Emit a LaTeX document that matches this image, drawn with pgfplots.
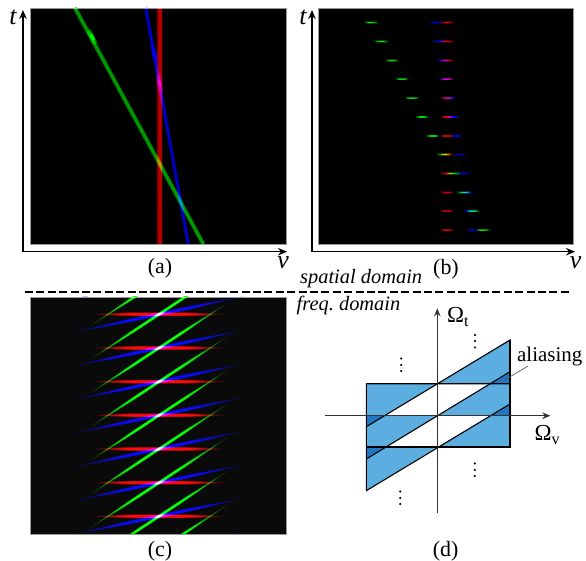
\documentclass[border=0pt]{standalone}
\usepackage{fontspec}
\setmainfont{Liberation Serif}
\usepackage{pgfplots}
\usepackage{pgfplotstable}
\pgfplotsset{compat=1.18}
\usetikzlibrary{arrows.meta}

\newcommand{\fs}[1]{\fontsize{#1}{#1}\selectfont}

\definecolor{panelred}{RGB}{160,0,0}
\definecolor{panelgreen}{RGB}{0,135,0}
\definecolor{panelblue}{RGB}{0,0,190}
\definecolor{lightfill}{RGB}{91,174,223}
\definecolor{darkfill}{RGB}{31,120,193}

% tapered streaks for panel (c): tip, shoulder and half width in bp
\newcommand{\streak}[7]{%
  \pgfdeclareplotmark{#1}{%
    \pgfpathmoveto{\pgfpoint{-#2bp}{-#3bp}}%
    \pgfpathlineto{\pgfpoint{\dimexpr-#4bp+#6bp}{\dimexpr-#5bp+#7bp}}%
    \pgfpathlineto{\pgfpoint{\dimexpr#4bp+#6bp}{\dimexpr#5bp+#7bp}}%
    \pgfpathlineto{\pgfpoint{#2bp}{#3bp}}%
    \pgfpathlineto{\pgfpoint{\dimexpr#4bp-#6bp}{\dimexpr#5bp-#7bp}}%
    \pgfpathlineto{\pgfpoint{\dimexpr-#4bp-#6bp}{\dimexpr-#5bp-#7bp}}%
    \pgfpathclose\pgfusepathqfill}}
\streak{sred}{67}{0}{36}{0}{0}{1.9}
\streak{sgreen}{68.3}{45}{30}{19.8}{-.85}{1.3}
\streak{sblue}{87}{18.5}{35}{7.4}{-.38}{1.8}

% panel (b): row, red, green, blue positions
\pgfplotstableread{
y     r   g     b
22.7  447 371.3 436
41.7  447 381.3 439.3
60.7  447 392   443
79.3  447 402   446.3
98.3  447 412.3 449.7
117   447 422.3 453
136   447 432.7 456.3
154.7 447 443.7 460
173.7 447 453.3 463.3
192.7 447 463.7 466.7
211.3 447 473   470
230.3 447 483.3 473.3
}\dashrows

% panel (c): centres of the streaks
\pgfplotstableread{
x   y
159 280.7
159 314.3
159 348
159 381.7
159 415.3
159 449
159 482.7
159 516.3
159 550
}\centres

\newcommand{\glow}[3]{%
  \addplot[#1,line width=#2*1.7bp,opacity=.25,blend mode=screen] coordinates {#3};
  \addplot[#1,line width=#2*1.3bp,opacity=.4,blend mode=screen] coordinates {#3};
  \addplot[#1,line width=#2bp,opacity=.8,blend mode=screen] coordinates {#3};
}
\newcommand{\spot}[3]{%
  \addplot[#1,line width=5bp,opacity=.4,blend mode=screen,line cap=round] coordinates {#2};
  \addplot[#1,line width=3.2bp,opacity=.9,blend mode=screen,line cap=round] coordinates {#3};
}
\newcommand{\dashmarks}[2]{%
  \addplot[#1,only marks,mark=-,mark size=6.5,line width=2.4bp,opacity=.22,blend mode=screen]
    table[x=#2,y=y] {\dashrows};
  \addplot[#1,only marks,mark=-,mark size=5,line width=1.6bp,opacity=.4,blend mode=screen]
    table[x=#2,y=y] {\dashrows};
  \addplot[#1,only marks,mark=-,mark size=3,line width=1.1bp,opacity=.7,blend mode=screen]
    table[x=#2,y=y] {\dashrows};
}
\newcommand{\streaks}[2]{%
  \addplot[#1,only marks,mark=#2,opacity=.28,blend mode=screen] table {\centres};
  \addplot[#1,only marks,mark=#2,mark options={scale=.85},opacity=.5,blend mode=screen] table {\centres};
  \addplot[#1,only marks,mark=#2,mark options={scale=.68},blend mode=screen] table {\centres};
}

\pgfplotsset{
  page/.style={scale only axis,width=586bp,height=561bp,at={(0,0)},anchor=south west,
    xmin=0,xmax=586,ymin=0,ymax=561,y dir=reverse,hide axis,clip=false},
  panel/.style={scale only axis,anchor=south west,y dir=reverse,ticks=none,
    axis line style={draw=black!40,line width=.8bp},axis background/.style={fill=#1}},
  arrowed/.style={black,line width=1.4bp,-{Stealth[length=9bp,width=7.5bp]}},
}

\begin{document}
\begin{tikzpicture}
  \path[use as bounding box] (0,0) rectangle (586bp,561bp);

  \begin{axis}[page]
    % axes of (a) and (b)
    \addplot[arrowed] coordinates {(23,251.7)(23,10)};
    \addplot[arrowed] coordinates {(23,251.7)(287,251.7)};
    \addplot[arrowed] coordinates {(312,251.7)(312,10)};
    \addplot[arrowed] coordinates {(312,251.7)(575,251.7)};
    % separator
    \addplot[black,line width=1.8bp,dash pattern=on 8bp off 3.4bp] coordinates {(25,292)(572,292)};

    % panel (d)
    \addplot[fill=lightfill,draw=none] coordinates
      {(366.3,383.7)(437.3,383.7)(510,340)(510,447)(437.3,447)(366.3,490.7)} --cycle;
    \addplot[fill=white,draw=none] coordinates {(437.3,383.7)(490,383.7)(437.3,415.7)(384.7,415.7)} --cycle;
    \addplot[fill=white,draw=none] coordinates {(437.3,415.7)(490,415.7)(437.3,447)(385.7,447)} --cycle;
    \addplot[fill=darkfill,draw=none] coordinates {(490,383.7)(510,383.7)(510,371.7)} --cycle;
    \addplot[fill=darkfill,draw=none] coordinates {(490,415.7)(510,415.7)(510,404)} --cycle;
    \addplot[fill=darkfill,draw=none] coordinates {(366.3,415.7)(384.7,415.7)(366.3,426.7)} --cycle;
    \addplot[fill=darkfill,draw=none] coordinates {(366.3,447)(385.7,447)(366.3,459)} --cycle;
    % its outlines
    \addplot[black,line width=1.1bp] coordinates
      {(366.3,383.7)(510,383.7)(510,340)(366.3,426.7)(366.3,383.7)};
    \addplot[black,line width=1.1bp] coordinates {(366.3,459)(510,371.7)};
    \addplot[black,line width=1.1bp] coordinates {(510,340)(510,447)(366.3,447)};
    \addplot[black,line width=1.1bp] coordinates {(366.3,426.7)(366.3,490.7)(510,404)};
    \addplot[black!80,line width=1.4bp,-{Stealth[length=8bp,width=6.5bp]}] coordinates {(325.3,415.7)(550.3,415.7)};
    \addplot[black!80,line width=1.4bp,-{Stealth[length=8bp,width=6.5bp]}] coordinates {(437.3,513.3)(437.3,308.3)};
    \addplot[black!70,line width=.6bp] coordinates {(504.7,380)(528,366)};
    \addplot[black,only marks,mark=*,mark size=.9] coordinates {
      (475,335)(475,341)(475,347.5)
      (401.3,358.5)(401.3,365)(401.3,371)
      (474.7,463.5)(474.7,470)(474.7,476)
      (400.3,491.5)(400.3,498)(400.3,504)};

    % text
    \node[font=\fs{22}] at (axis cs:160,268) {(a)};
    \node[font=\fs{22}] at (axis cs:446,269) {(b)};
    \node[font=\fs{22}] at (axis cs:160,551.5) {(c)};
    \node[font=\fs{22}] at (axis cs:445.7,551.5) {(d)};
    \node[font=\fs{26}\itshape] at (axis cs:13,17) {t};
    \node[font=\fs{26}\itshape] at (axis cs:303,17) {t};
    \node[font=\fs{26}\itshape] at (axis cs:283,263) {v};
    \node[font=\fs{26}\itshape] at (axis cs:575.5,263) {v};
    \node[font=\fs{20.5}\itshape,anchor=west,inner sep=0pt] at (axis cs:300,278.5) {spatial domain};
    \node[font=\fs{20.5}\itshape,anchor=west,inner sep=0pt] at (axis cs:296.5,305) {freq.~domain};
    \node[font=\fs{21},anchor=west,inner sep=0pt] at (axis cs:517,356.5) {aliasing};
    \node[font=\fs{23},anchor=west,inner sep=0pt] at (axis cs:447,317) {Ω\textsubscript{t}};
    \node[font=\fs{23},anchor=west,inner sep=0pt] at (axis cs:534.5,435) {Ω\textsubscript{v}};
  \end{axis}

  % panel (a)
  \begin{axis}[panel=black,at={(30bp,317bp)},width=256bp,height=236bp,
      xmin=30,xmax=286,ymin=8,ymax=244]
    \glow{panelred}{4}{(159.7,8)(159.7,244)}
    \glow{panelblue}{2.4}{(145.7,8)(188.3,244)}
    \glow{panelgreen}{3}{(75,8)(203.3,244)}
    \spot{green}{(89.5,32)(94.5,42)}{(91,35)(93.5,39.5)}
    \spot{blue}{(152.8,47)(155.8,60)}{(153.8,52)(155,57)}
    \spot{magenta}{(158.8,77)(160.3,89)}{(159.2,81)(160,85)}
  \end{axis}

  % panel (b)
  \begin{axis}[panel=black,at={(318bp,317bp)},width=255bp,height=236bp,
      xmin=318,xmax=573,ymin=8,ymax=244]
    \dashmarks{red}{r}
    \dashmarks{green}{g}
    \dashmarks{blue}{b}
  \end{axis}

  % panel (c), box first, then the streaks clipped to it
  \begin{axis}[panel={black!96},at={(30bp,27bp)},width=256bp,height=237bp,
      xmin=30,xmax=286,ymin=297,ymax=534]
  \end{axis}
  \begin{scope}
    \clip (30bp,27bp) rectangle (286bp,264bp);
    \begin{axis}[scale only axis,anchor=south west,at={(30bp,6bp)},width=256bp,height=280bp,
        xmin=30,xmax=286,ymin=275,ymax=555,y dir=reverse,hide axis,clip=false]
      \streaks{red}{sred}
      \streaks{blue}{sblue}
      \streaks{green}{sgreen}
    \end{axis}
  \end{scope}
\end{tikzpicture}
\end{document}
